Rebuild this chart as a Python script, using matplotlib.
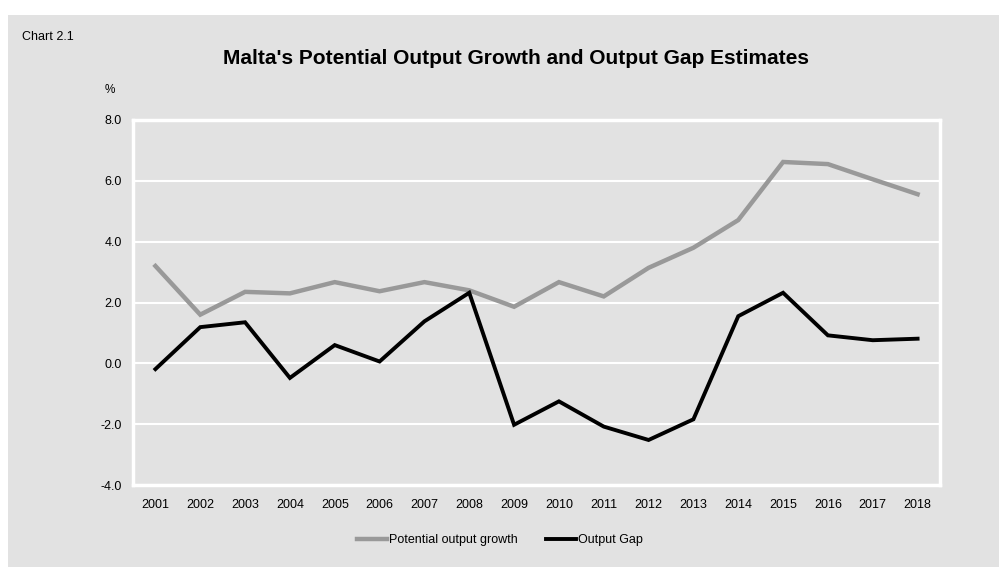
import numpy as np
import matplotlib.pyplot as plt
from matplotlib.patches import Rectangle

plt.rcParams['font.family'] = ['Liberation Sans', 'DejaVu Sans']

years = [str(y) for y in range(2001, 2019)]
potential_growth = [3.2, 1.6, 2.35, 2.3, 2.67, 2.37, 2.67, 2.4, 1.86, 2.67,
                    2.2, 3.14, 3.8, 4.71, 6.62, 6.55, 6.05, 5.56]
output_gap = [-0.19, 1.19, 1.35, -0.48, 0.6, 0.06, 1.38, 2.32, -2.02, -1.25,
              -2.08, -2.52, -1.84, 1.55, 2.32, 0.92, 0.76, 0.81]
yticks = [-4.0, -2.0, 0.0, 2.0, 4.0, 6.0, 8.0]

bg = '#e2e2e2'
fig = plt.figure(figsize=(9.99, 5.67), dpi=100, facecolor='white')
# grey panel behind the whole chart
fig.patches.append(Rectangle((8 / 999, 0), 1, 1 - 15 / 567, transform=fig.transFigure,
                             facecolor=bg, edgecolor='none', zorder=-1))

ax = fig.add_axes([133 / 999, 1 - 485 / 567, 807 / 999, 365 / 567])
ax.set_facecolor(bg)

x = np.arange(len(years))
ax.plot(x, potential_growth, color='#999999', lw=3.2, label='Potential output growth',
        solid_joinstyle='miter', zorder=3)
ax.plot(x, output_gap, color='black', lw=2.8, label='Output Gap',
        solid_joinstyle='miter', zorder=4)

ax.set_xlim(-0.5, len(years) - 0.5)
ax.set_ylim(-4, 8)
ax.set_xticks(x)
ax.set_xticklabels(years)
ax.set_yticks(yticks)
ax.set_yticklabels([f'{v:.1f}' for v in yticks])
ax.tick_params(length=0, labelsize=9, pad=8)
ax.tick_params(axis='x', pad=10)
ax.grid(axis='y', color='white', lw=1.5)
ax.set_axisbelow(True)
for s in ax.spines.values():
    s.set_color('white')
    s.set_linewidth(2.5)

fig.text(22 / 999, 1 - 37 / 567, 'Chart 2.1', fontsize=9, va='center', ha='left')
fig.text(516 / 999, 1 - 58 / 567, "Malta's Potential Output Growth and Output Gap Estimates",
         fontsize=15, fontweight='bold', ha='center', va='center')
fig.text(110 / 999, 1 - 90 / 567, '%', fontsize=8.5, ha='center', va='center')

fig.legend(loc='center', bbox_to_anchor=(500 / 999, 1 - 540 / 567), ncol=2, frameon=False,
           fontsize=9, handlelength=2.4, handletextpad=0.2, columnspacing=2.2)

plt.savefig('out.png', dpi=100, facecolor='white')
